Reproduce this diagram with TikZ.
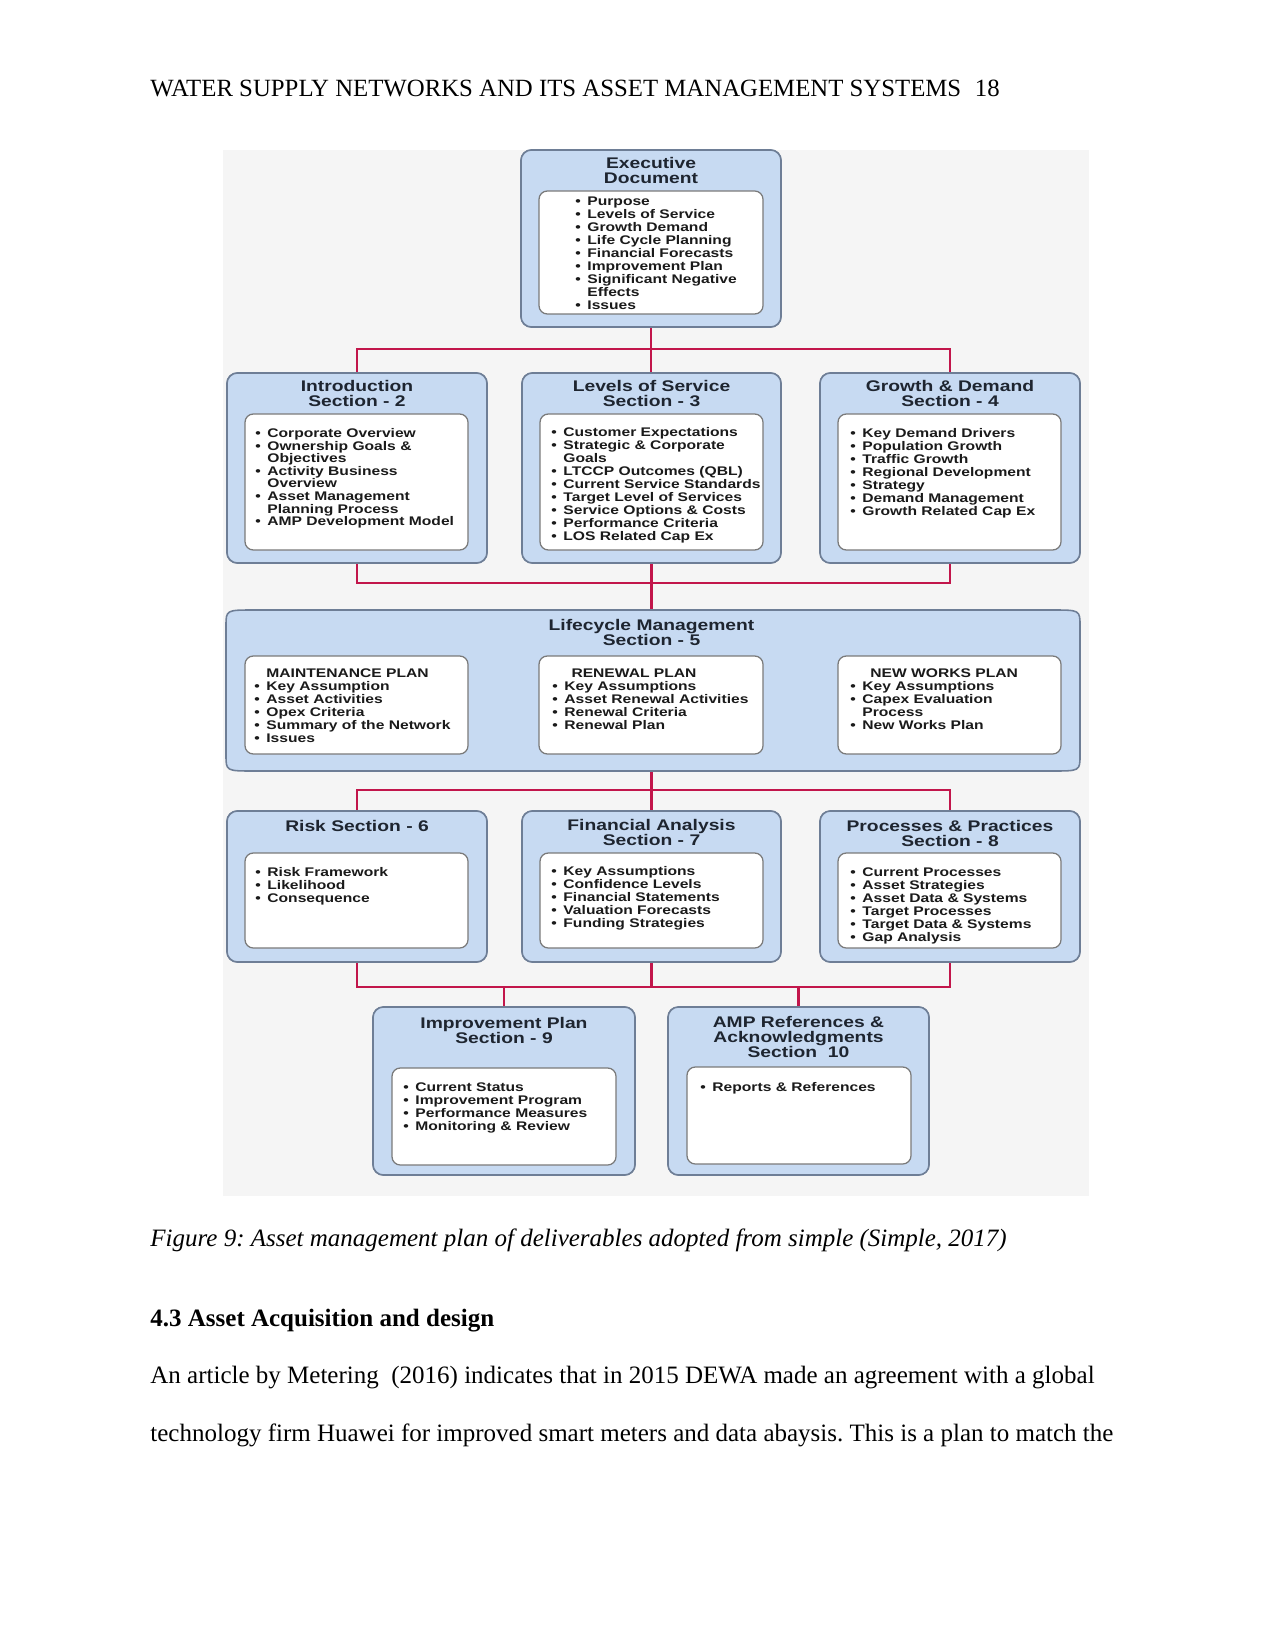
\documentclass[tikz,border=0pt]{standalone}
\usepackage{fontspec}
\setmainfont{Liberation Serif}
\newfontfamily\boxfont{Liberation Sans Bold}[FakeStretch=1.25]
\usetikzlibrary{calc}
\frenchspacing
\definecolor{boxc}{HTML}{C7DAF2}
\definecolor{bordc}{HTML}{6E7E96}
\definecolor{innc}{HTML}{7A7A7A}
\definecolor{redc}{HTML}{C2164B}
\definecolor{bgc}{HTML}{F5F5F5}
\definecolor{titc}{HTML}{1E2530}
\definecolor{txtc}{HTML}{1A1A1A}
\newcommand\pxu{0.48pt}
\newcommand\bw{5.76pt}
\newcommand\itm[1]{\makebox[\bw][l]{\textbullet}#1}
\newcommand\cnt[1]{\hspace*{\bw}#1}
\newcommand\hdr[2]{\hspace*{\dimexpr\bw+#1\relax}#2}
\newcommand\blist[2][6.24pt]{\begin{minipage}[t]{8cm}\boxfont\fontsize{6}{#1}\selectfont\lineskiplimit=-20pt\lineskip=0pt\raggedright #2\end{minipage}}
\newcommand\tlist[1]{\begin{minipage}[t]{6cm}\boxfont\fontsize{7.4}{7.2}\selectfont\lineskiplimit=-20pt\lineskip=0pt\centering #1\end{minipage}}
\tikzset{
  obox/.style={draw=bordc, fill=boxc, line width=0.75pt, rounded corners=5pt, inner sep=0},
  ibox/.style={draw=innc, fill=white, line width=0.6pt, rounded corners=4pt, inner sep=0},
  conn/.style={draw=redc, line width=1.4pt},
  ttl/.style={anchor=north, inner sep=0, text=titc},
  lst/.style={anchor=base west, inner sep=0, text=txtc},
  pagetxt/.style={anchor=base west, inner sep=0, font=\fontsize{12}{14}\selectfont}
}
\newcommand\obx[5]{\node[obox, minimum width={(#4-#2)*\pxu}, minimum height={(#5-#3)*\pxu}] (#1) at ({(#2+#4)/2},{(#3+#5)/2}) {};}
\newcommand\ibx[5]{\node[ibox, minimum width={(#4-#2)*\pxu}, minimum height={(#5-#3)*\pxu}] (#1) at ({(#2+#4)/2},{(#3+#5)/2}) {};}
\begin{document}
\begin{tikzpicture}[x=0.48pt, y=-0.48pt]
\useasboundingbox (0,0) rectangle (1275,1650);
\fill[white] (0,0) rectangle (1275,1650);
\fill[bgc] (223,150) rectangle (1089,1196);

% page text
\node[pagetxt] (hdr) at (150,97) {\fontsize{11.9}{14}\selectfont WATER SUPPLY NETWORKS AND ITS ASSET MANAGEMENT SYSTEMS\hspace{0.55em}18};
\node[pagetxt] (cap) at (150,1246) {\itshape Figure 9: Asset management plan of deliverables adopted from simple (Simple, 2017)};
\node[pagetxt] (sec) at (150,1326) {\bfseries 4.3 Asset Acquisition and design};
\node[pagetxt] (p1) at (150,1383) {An article by Metering\ \ (2016) indicates that in 2015 DEWA made an agreement with a global};
\node[pagetxt] (p2) at (150,1441) {technology firm Huawei for improved smart meters and data abaysis. This is a plan to match the};

% invisible lifecycle node for connections
\node[inner sep=0, minimum width={854*\pxu}, minimum height={161*\pxu}] (life) at (653,690.5) {};

% outer boxes
\obx{exec}{521}{150}{781}{327}
\obx{intro}{227}{373}{487}{563}
\obx{los}{522}{373}{781}{563}
\obx{growth}{820}{373}{1080}{563}
\obx{risk}{227}{811}{487}{962}
\obx{fin}{522}{811}{781}{962}
\obx{proc}{820}{811}{1080}{962}
\obx{imp}{373}{1007}{635}{1175}
\obx{amp}{668}{1007}{929}{1175}

% connectors
\coordinate (b1) at (651,349);
\coordinate (b2) at (651,583);
\coordinate (b3) at (651,790);
\coordinate (b4) at (651,987);
\draw[conn] (exec.south) -- (exec.south |- los.north);
\draw[conn] (intro.north) |- (b1) -| (growth.north);
\draw[conn] (intro.south) |- (b2) -| (growth.south);
\draw[conn] (los.south) -- (los.south |- life.north);
\draw[conn] (fin.north |- life.south) -- (fin.north);
\draw[conn] (risk.north) |- (b3) -| (proc.north);
\draw[conn] (risk.south) |- (b4) -| (proc.south);
\draw[conn] (fin.south) -- (fin.south |- b4);
\draw[conn] (imp.north) -- (imp.north |- b4);
\draw[conn] (amp.north) -- (amp.north |- b4);

% redraw boxes on top of connector ends
\obx{exec}{521}{150}{781}{327}
\obx{intro}{227}{373}{487}{563}
\obx{los}{522}{373}{781}{563}
\obx{growth}{820}{373}{1080}{563}
\obx{risk}{227}{811}{487}{962}
\obx{fin}{522}{811}{781}{962}
\obx{proc}{820}{811}{1080}{962}
\obx{imp}{373}{1007}{635}{1175}
\obx{amp}{668}{1007}{929}{1175}

% lifecycle box with elliptical corners
\draw[draw=bordc, fill=boxc, line width=0.75pt]
  (226,626) .. controls (226,610) .. (254,610) -- (1052,610)
  .. controls (1080,610) .. (1080,626) -- (1080,755)
  .. controls (1080,771) .. (1052,771) -- (254,771)
  .. controls (226,771) .. (226,755) -- cycle;

% inner boxes
\ibx{execin}{539}{191}{763}{314}
\ibx{introin}{245}{414}{468}{550}
\ibx{losin}{540}{414}{763}{550}
\ibx{growthin}{838}{414}{1061}{550}
\ibx{maintin}{245}{656}{468}{754}
\ibx{renin}{539}{656}{763}{754}
\ibx{newin}{838}{656}{1061}{754}
\ibx{riskin}{245}{853}{468}{948}
\ibx{finin}{540}{853}{763}{948}
\ibx{procin}{838}{853}{1061}{948}
\ibx{impin}{392}{1068}{616}{1165}
\ibx{ampin}{687}{1067}{911}{1164}

% titles
\node[ttl] (t1) at (651,157) {\tlist{Executive\\Document}};
\node[ttl] (t2) at (357,380) {\tlist{Introduction\\Section - 2}};
\node[ttl] (t3) at (651.5,380) {\tlist{Levels of Service\\Section - 3}};
\node[ttl] (t4) at (950,380) {\tlist{Growth \& Demand\\Section - 4}};
\node[ttl] (t5) at (651.5,619) {\tlist{Lifecycle Management\\Section - 5}};
\node[ttl] (t6) at (357,820) {\tlist{Risk Section - 6}};
\node[ttl] (t7) at (651.5,819) {\tlist{Financial Analysis\\Section - 7}};
\node[ttl] (t8) at (950,820) {\tlist{Processes \& Practices\\Section - 8}};
\node[ttl] (t9) at (504,1017) {\tlist{Improvement Plan\\Section - 9}};
\node[ttl] (t10) at (798.5,1016) {\tlist{AMP References \&\\Acknowledgments\\Section\ \ 10}};

% lists
\node[lst] (l1) at (575,205.5) {\blist{\itm{Purpose}\\\itm{Levels of Service}\\\itm{Growth Demand}\\\itm{Life Cycle Planning}\\\itm{Financial Forecasts}\\\itm{Improvement Plan}\\\itm{Significant Negative}\\\cnt{Effects}\\\itm{Issues}}};
\node[lst] (l2) at (255,437.5) {\blist[6.05pt]{\itm{Corporate Overview}\\\itm{Ownership Goals \&}\\\cnt{Objectives}\\\itm{Activity Business}\\\cnt{Overview}\\\itm{Asset Management}\\\cnt{Planning Process}\\\itm{AMP Development Model}}};
\node[lst] (l3) at (551,436.5) {\blist{\itm{Customer Expectations}\\\itm{Strategic \& Corporate}\\\cnt{Goals}\\\itm{LTCCP Outcomes (QBL)}\\\itm{Current Service Standards}\\\itm{Target Level of Services}\\\itm{Service Options \& Costs}\\\itm{Performance Criteria}\\\itm{LOS Related Cap Ex}}};
\node[lst] (l4) at (850,437.5) {\blist{\itm{Key Demand Drivers}\\\itm{Population Growth}\\\itm{Traffic Growth}\\\itm{Regional Development}\\\itm{Strategy}\\\itm{Demand Management}\\\itm{Growth Related Cap Ex}}};
\node[lst] (l5) at (254,677.5) {\blist{\hdr{0pt}{MAINTENANCE PLAN}\\\itm{Key Assumption}\\\itm{Asset Activities}\\\itm{Opex Criteria}\\\itm{Summary of the Network}\\\itm{Issues}}};
\node[lst] (l6) at (552,677.5) {\blist{\hdr{3.4pt}{RENEWAL PLAN}\\\itm{Key Assumptions}\\\itm{Asset Renewal Activities}\\\itm{Renewal Criteria}\\\itm{Renewal Plan}}};
\node[lst] (l7) at (850,677.5) {\blist{\hdr{3.8pt}{NEW WORKS PLAN}\\\itm{Key Assumptions}\\\itm{Capex Evaluation}\\\cnt{Process}\\\itm{New Works Plan}}};
\node[lst] (l8) at (255,876.5) {\blist{\itm{Risk Framework}\\\itm{Likelihood}\\\itm{Consequence}}};
\node[lst] (l9) at (551,875.5) {\blist{\itm{Key Assumptions}\\\itm{Confidence Levels}\\\itm{Financial Statements}\\\itm{Valuation Forecasts}\\\itm{Funding Strategies}}};
\node[lst] (l10) at (850,876.5) {\blist{\itm{Current Processes}\\\itm{Asset Strategies}\\\itm{Asset Data \& Systems}\\\itm{Target Processes}\\\itm{Target Data \& Systems}\\\itm{Gap Analysis}}};
\node[lst] (l11) at (403,1091.5) {\blist{\itm{Current Status}\\\itm{Improvement Program}\\\itm{Performance Measures}\\\itm{Monitoring \& Review}}};
\node[lst] (l12) at (700,1091.5) {\blist{\itm{Reports \& References}}};
\end{tikzpicture}
\end{document}
